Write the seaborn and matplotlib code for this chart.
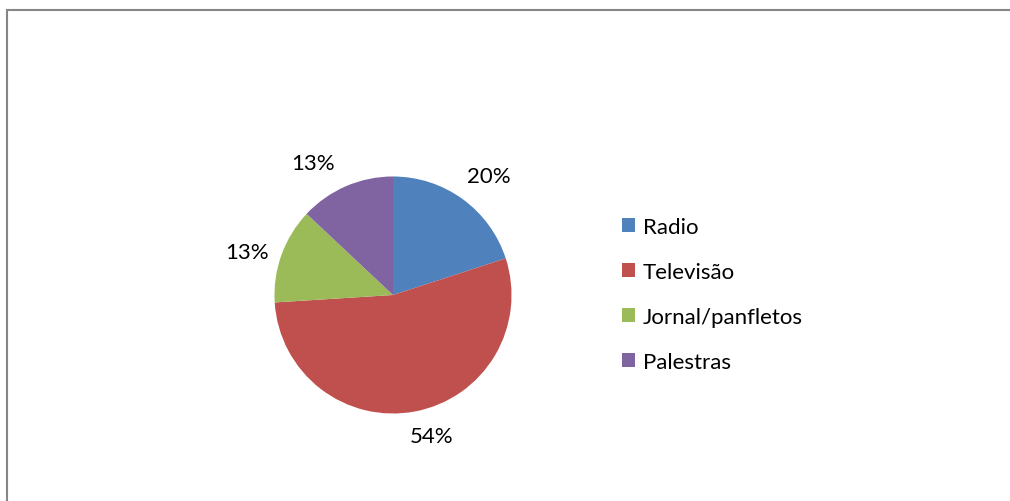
import matplotlib
matplotlib.use("Agg")
import numpy as np
import matplotlib.pyplot as plt
from matplotlib.lines import Line2D
import seaborn as sns

categories = ["Radio", "Televisão", "Jornal/panfletos", "Palestras"]
shares = [20, 54, 13, 13]
colors = ["#4F81BD", "#C0504D", "#9BBB59", "#8064A2"]

sns.set_theme(style="white")
plt.rcParams["font.family"] = ["Lato", "DejaVu Sans"]
plt.rcParams["text.color"] = "black"

W, H = 1010, 502
fig = plt.figure(figsize=(W / 100, H / 100), dpi=100)
fig.patch.set_facecolor("white")

# chart frame: top and left edges of the outer box
fig.add_artist(Line2D([7 / W, 7 / W, 1009.5 / W], [0.0, 1 - 11 / H, 1 - 11 / H],
                      transform=fig.transFigure, color="#868686", lw=1.5,
                      solid_capstyle="butt", solid_joinstyle="miter"))

cx, cy, half = 393, H - 296, 160
ax = fig.add_axes([(cx - half) / W, (cy - half) / H, 2 * half / W, 2 * half / H])
wedges, _ = ax.pie(
    shares,
    colors=colors,
    startangle=90,
    counterclock=False,
    wedgeprops=dict(linewidth=0),
)
ax.set_xlim(-1.35, 1.35)
ax.set_ylim(-1.35, 1.35)
ax.set_aspect("equal")
ax.axis("off")

# percentage labels just outside each wedge, nudged clear of the rim
nudges = [(19, 17), (12, -18), (-25, 2), (-24, 17)]
total = sum(shares)
for w, v, (dx, dy) in zip(wedges, shares, nudges):
    mid = np.deg2rad((w.theta1 + w.theta2) / 2)
    ax.annotate(f"{100 * v / total:.0f}%",
                xy=(np.cos(mid), np.sin(mid)),
                xytext=(dx, dy), textcoords="offset points",
                ha="center", va="center", fontsize=16, color="black")

leg = fig.legend(
    wedges, categories,
    loc="center left",
    bbox_to_anchor=(602 / W, 1 - 295.5 / H),
    frameon=False,
    fontsize=16,
    handlelength=0.6,
    handleheight=0.6,
    handletextpad=0.33,
    labelspacing=1.13,
)
for t in leg.get_texts():
    t.set_color("black")

fig.savefig("out.png", dpi=100)
